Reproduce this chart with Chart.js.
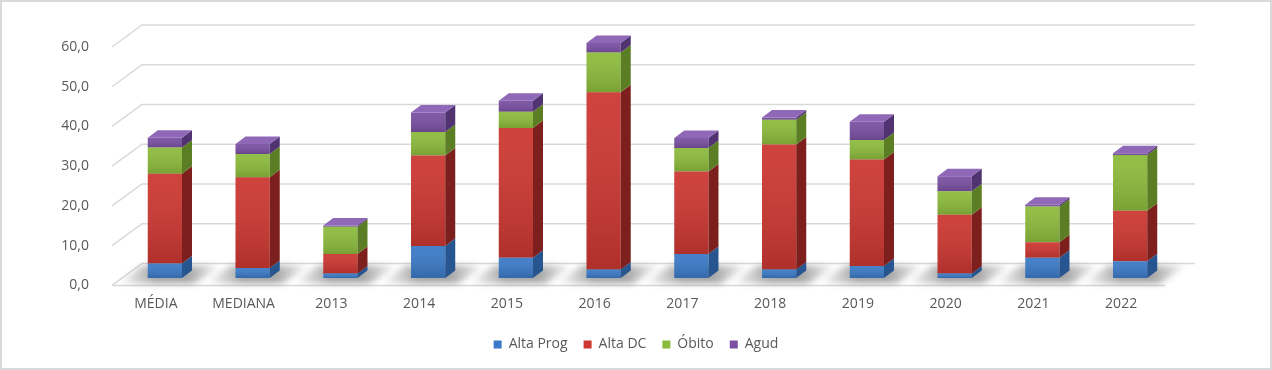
<!DOCTYPE html>
<html>
<head>
<meta charset="utf-8">
<script src="https://cdn.jsdelivr.net/npm/chart.js"></script>
<style>
	body { margin: 0; background: #ffffff; }
	#frame { position: relative; width: 1272px; height: 370px; box-shadow: inset 0 0 0 2px #d9d9d9; }
	#chart { position: absolute; left: 0; top: 0; }
</style>
</head>
<body>
<div id="frame"><canvas id="chart" width="1272" height="370"></canvas></div>
<script>
	var categories = ['MÉDIA', 'MEDIANA', '2013', '2014', '2015', '2016', '2017', '2018', '2019', '2020', '2021', '2022'];
	var altaProg = [3.6, 2.5, 1.1, 8.0, 5.1, 2.1, 6.0, 2.1, 3.0, 1.1, 5.1, 4.2];
	var altaDC   = [22.6, 22.8, 4.9, 22.8, 32.6, 44.6, 20.8, 31.5, 26.8, 14.8, 3.9, 12.7];
	var obito    = [6.6, 5.9, 6.9, 5.9, 4.1, 10.0, 5.9, 6.2, 4.9, 5.9, 9.0, 14.0];
	var agud     = [2.5, 2.5, 0.3, 4.9, 2.8, 2.4, 2.5, 0.6, 4.6, 3.8, 0.4, 0.5];
	var yTicks   = [0, 10, 20, 30, 40, 50, 60];

	// front / side / top colours for the fake 3d faces
	var faceColors = [
		{ front: '#3b7ac6', side: '#27558f', top: '#5591d6' },
		{ front: '#cc3731', side: '#7d1f1c', top: '#d8524c' },
		{ front: '#8cbb3c', side: '#5b7d24', top: '#a2cc55' },
		{ front: '#7a50a2', side: '#523371', top: '#8f68b8' }
	];
	var depthX = 30, depthY = 22;   // floor / wall depth
	var barDX = 10, barDY = 7.5;    // bar thickness
	var shiftX = 9, shiftY = -7.5;  // bars sit a bit behind the front edge

	var wall3d = {
		id: 'wall3d',
		beforeDatasetsDraw: function(chart)
		{
			var ctx = chart.ctx;
			var area = chart.chartArea;
			var y = chart.scales.y;
			ctx.save();
			// grid lines on back wall with diagonal at the left
			ctx.strokeStyle = '#d9d9d9';
			ctx.lineWidth = 1.5;
			yTicks.forEach(function(v)
			{
				var py = y.getPixelForValue(v);
				ctx.beginPath();
				ctx.moveTo(area.left, py);
				ctx.lineTo(area.left + depthX, py - depthY);
				ctx.lineTo(area.right + depthX, py - depthY);
				ctx.stroke();
			});
			// front edge of the floor
			ctx.beginPath();
			ctx.moveTo(area.left, area.bottom);
			ctx.lineTo(area.right, area.bottom);
			ctx.stroke();
			// shadows on the floor
			var meta = chart.getDatasetMeta(0);
			ctx.filter = 'blur(3px)';
			meta.data.forEach(function(el)
			{
				var p = el.getProps(['x', 'width'], true);
				var l = p.x - p.width * 0.5 - 22, r = p.x + p.width * 0.5 + 22;
				var fy = area.bottom - 2, by = area.bottom - depthY + 2;
				var g = ctx.createLinearGradient(l, 0, r + depthX, 0);
				g.addColorStop(0, 'rgba(120,120,120,0)');
				g.addColorStop(0.35, 'rgba(105,105,105,0.6)');
				g.addColorStop(0.65, 'rgba(105,105,105,0.6)');
				g.addColorStop(1, 'rgba(120,120,120,0)');
				ctx.fillStyle = g;
				ctx.beginPath();
				ctx.moveTo(l, fy);
				ctx.lineTo(r, fy);
				ctx.lineTo(r + depthX - 4, by);
				ctx.lineTo(l + depthX - 4, by);
				ctx.closePath();
				ctx.fill();
			});
			ctx.restore();
			ctx.save();
			ctx.translate(shiftX, shiftY);
		},
		afterDatasetsDraw: function(chart)
		{
			var ctx = chart.ctx;
			for (var d = 0; d < chart.data.datasets.length; d++)
			{
				var meta = chart.getDatasetMeta(d);
				var c = faceColors[d];
				meta.data.forEach(function(el, i)
				{
					var p = el.getProps(['x', 'y', 'base', 'width'], true);
					var l = p.x - p.width / 2, r = p.x + p.width / 2;
					var t = Math.min(p.y, p.base), b = Math.max(p.y, p.base);
					// darker towards the bottom of each segment
					var g = ctx.createLinearGradient(0, t, 0, b);
					g.addColorStop(0, 'rgba(255,255,255,0.06)');
					g.addColorStop(1, 'rgba(0,0,0,0.14)');
					ctx.fillStyle = g;
					ctx.fillRect(l, t, r - l, b - t);
					// right side face
					ctx.fillStyle = c.side;
					ctx.beginPath();
					ctx.moveTo(r, t);
					ctx.lineTo(r + barDX, t - barDY);
					ctx.lineTo(r + barDX, b - barDY);
					ctx.lineTo(r, b);
					ctx.closePath();
					ctx.fill();
					// top face only on the highest segment
					var isTop = true;
					for (var k = d + 1; k < chart.data.datasets.length; k++)
						if (chart.data.datasets[k].data[i] > 0) isTop = false;
					if (isTop)
					{
						ctx.fillStyle = c.top;
						ctx.beginPath();
						ctx.moveTo(l, t);
						ctx.lineTo(l + barDX, t - barDY);
						ctx.lineTo(r + barDX, t - barDY);
						ctx.lineTo(r, t);
						ctx.closePath();
						ctx.fill();
					}
				});
			}
			ctx.restore();
		}
	};

	window.onload = () =>
	{
		var ctx = document.getElementById('chart').getContext('2d');
		var textColor = '#595959';
		var font = { family: "'Open Sans', sans-serif", size: 14 };
		var chartConfig =
		{
			type: 'bar',
			data:
			{
				labels: categories,
				datasets: [
					{ label: 'Alta Prog', data: altaProg, backgroundColor: faceColors[0].front },
					{ label: 'Alta DC', data: altaDC, backgroundColor: faceColors[1].front },
					{ label: 'Óbito', data: obito, backgroundColor: faceColors[2].front },
					{ label: 'Agud', data: agud, backgroundColor: faceColors[3].front }
				]
			},
			options:
			{
				responsive: false,
				animation: false,
				layout: { padding: { top: 47, right: 0, bottom: 8.6, left: 0 } },
				datasets: { bar: { categoryPercentage: 1, barPercentage: 0.39, borderWidth: 0 } },
				scales:
				{
					x:
					{
						stacked: true,
						grid: { display: false },
						border: { display: false },
						ticks: { color: textColor, font: font, padding: 2, maxRotation: 0 },
						afterFit: function(s) { s.height = 36; }
					},
					y:
					{
						stacked: true,
						min: 0,
						max: 60,
						grid: { display: false },
						border: { display: false },
						ticks:
						{
							stepSize: 10,
							color: textColor,
							font: font,
							padding: 15,
							callback: function(v) { return v.toFixed(1).replace('.', ','); }
						},
						afterFit: function(s) { s.width = 112; }
					},
					// empty space on the right, keeps the legend centred on the page
					yRight:
					{
						position: 'right',
						grid: { display: false },
						border: { display: false },
						ticks: { display: false },
						afterFit: function(s) { s.width = 107; }
					}
				},
				plugins:
				{
					legend:
					{
						position: 'bottom',
						labels: { color: textColor, font: font, boxWidth: 8, boxHeight: 8, padding: 16 }
					},
					tooltip: { enabled: false }
				}
			},
			plugins: [wall3d]
		};
		var chart = new Chart(ctx, chartConfig);
	};
</script>
</body>
</html>
